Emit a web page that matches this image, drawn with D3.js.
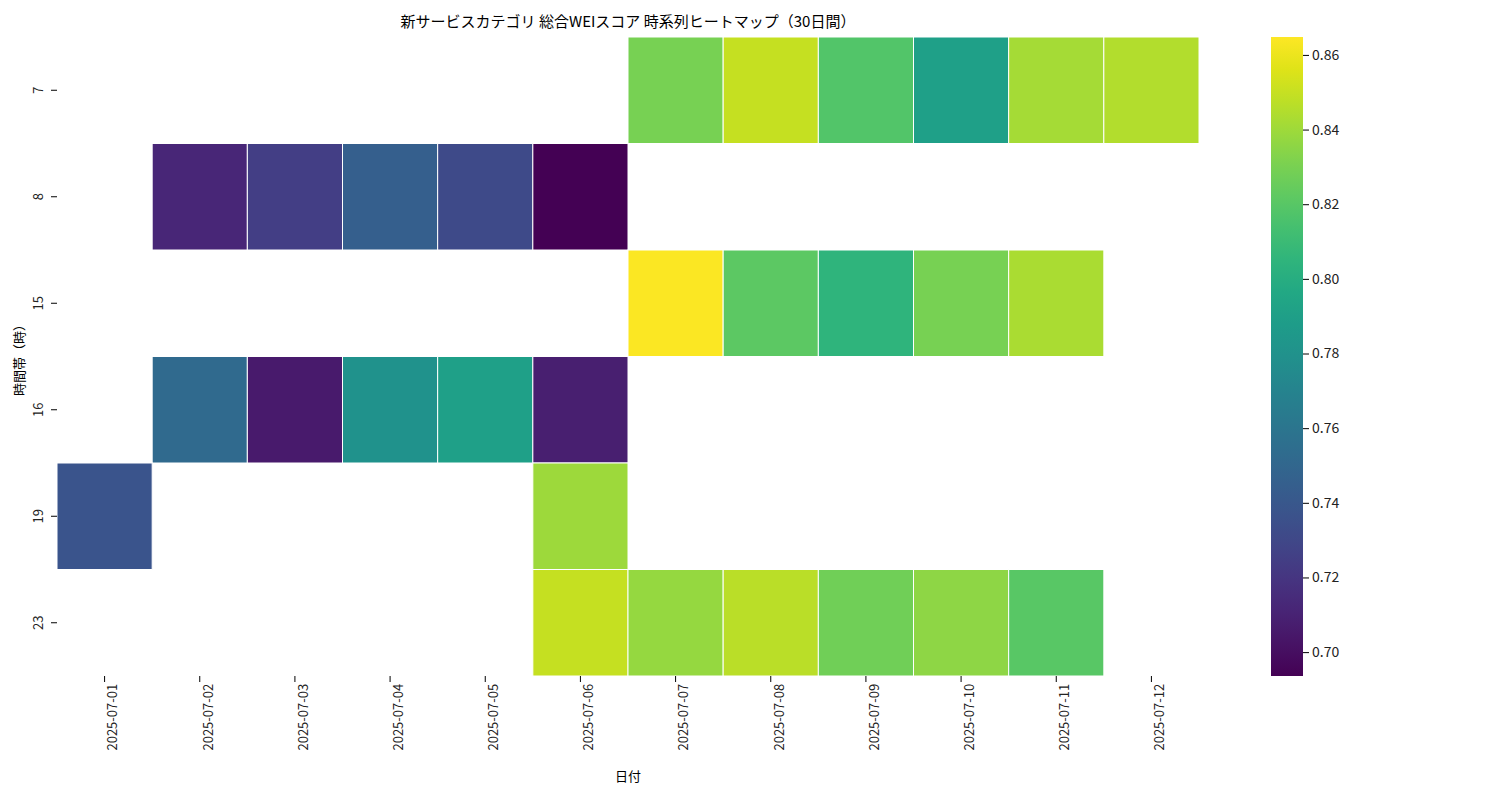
<!DOCTYPE html><html><head><meta charset="utf-8"><script src="https://cdn.jsdelivr.net/npm/d3@7"></script>
<style>body{margin:0;background:#fff}text{font-family:"Noto Sans CJK JP","DejaVu Sans",sans-serif}</style></head><body><svg id="c" width="1500" height="800"></svg><script>
const dates=["2025-07-01","2025-07-02","2025-07-03","2025-07-04","2025-07-05","2025-07-06","2025-07-07","2025-07-08","2025-07-09","2025-07-10","2025-07-11","2025-07-12"];
const hours=["7","8","15","16","19","23"];
const cells=[
["7","2025-07-07",0.830],["7","2025-07-08",0.850],["7","2025-07-09",0.818],["7","2025-07-10",0.790],["7","2025-07-11",0.842],["7","2025-07-12",0.845],
["8","2025-07-02",0.712],["8","2025-07-03",0.725],["8","2025-07-04",0.745],["8","2025-07-05",0.732],["8","2025-07-06",0.694],
["15","2025-07-07",0.864],["15","2025-07-08",0.822],["15","2025-07-09",0.805],["15","2025-07-10",0.830],["15","2025-07-11",0.843],
["16","2025-07-02",0.752],["16","2025-07-03",0.705],["16","2025-07-04",0.780],["16","2025-07-05",0.790],["16","2025-07-06",0.708],
["19","2025-07-01",0.738],["19","2025-07-06",0.840],
["23","2025-07-06",0.850],["23","2025-07-07",0.838],["23","2025-07-08",0.847],["23","2025-07-09",0.828],["23","2025-07-10",0.836],["23","2025-07-11",0.820]];
const cTicks=[0.70,0.72,0.74,0.76,0.78,0.80,0.82,0.84,0.86];
const vmin=0.6936,vmax=0.8648;
const svg=d3.select("#c");
const x=d3.scaleBand().domain(dates).range([57,1199]);
const y=d3.scaleBand().domain(hours).range([37,676]);
const col=d3.scaleSequential(d3.interpolateViridis).domain([vmin,vmax]);
svg.selectAll("rect.c").data(cells).join("rect").attr("x",d=>x(d[1])).attr("y",d=>y(d[0])).attr("width",x.bandwidth()).attr("height",y.bandwidth()).attr("fill",d=>col(d[2])).attr("stroke","#fff").attr("stroke-width",1);
const xa=svg.append("g").attr("transform","translate(0,676)").call(d3.axisBottom(x).tickSizeOuter(0));
xa.select(".domain").remove();
xa.selectAll("text").attr("transform","rotate(-90)").attr("text-anchor","end").attr("dx","-0.6em").attr("dy","0.3em").attr("font-size",13).attr("fill","#222");
const ya=svg.append("g").attr("transform","translate(57,0)").call(d3.axisLeft(y).tickSizeOuter(0));
ya.select(".domain").remove();
ya.selectAll("text").attr("transform","rotate(-90)").attr("text-anchor","middle").attr("dx",0).attr("dy","0").attr("x",0).attr("y",-14).attr("font-size",13).attr("fill","#222");
ya.selectAll(".tick text").attr("transform",null).each(function(){const t=d3.select(this);t.attr("transform","translate(-19,0) rotate(-90)").attr("x",0).attr("y",0).attr("dy","0.35em");});
svg.append("text").attr("x",628).attr("y",27).attr("text-anchor","middle").attr("font-size",15).text("新サービスカテゴリ 総合WEIスコア 時系列ヒートマップ（30日間）");
svg.append("text").attr("x",628).attr("y",781).attr("text-anchor","middle").attr("font-size",13).text("日付");
svg.append("text").attr("transform","translate(24,357) rotate(-90)").attr("text-anchor","middle").attr("font-size",13).text("時間帯（時）");
const defs=svg.append("defs");const g=defs.append("linearGradient").attr("id","g").attr("x1",0).attr("y1",1).attr("x2",0).attr("y2",0);
d3.range(0,1.001,0.05).forEach(t=>g.append("stop").attr("offset",t).attr("stop-color",d3.interpolateViridis(t)));
svg.append("rect").attr("x",1271).attr("y",37).attr("width",32).attr("height",639).attr("fill","url(#g)");
const cy=d3.scaleLinear().domain([vmin,vmax]).range([676,37]);
const ca=svg.append("g").attr("transform","translate(1303,0)").call(d3.axisRight(cy).tickValues(cTicks).tickFormat(d3.format(".2f")).tickSizeOuter(0));
ca.select(".domain").remove();ca.selectAll("text").attr("font-size",14).attr("fill","#222");
</script></body></html>
